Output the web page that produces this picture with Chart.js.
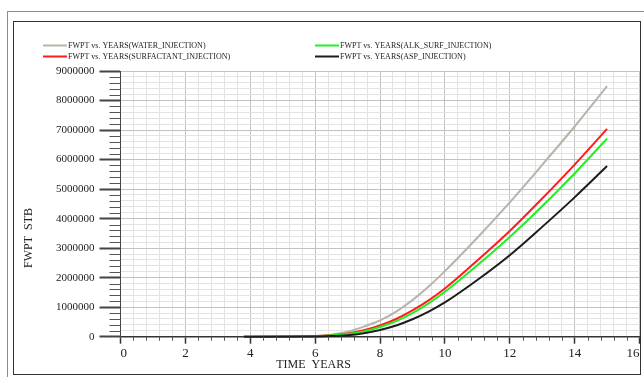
<!DOCTYPE html>
<html>
<head>
<meta charset="utf-8">
<script src="https://cdn.jsdelivr.net/npm/chart.js@4"></script>
<style>
  html, body { margin: 0; padding: 0; background: #fff; }
  #wrap { width: 644px; height: 377px; }
</style>
</head>
<body>
<div id="wrap"><canvas id="c" width="644" height="377"></canvas></div>
<script>
// ---- data ----
const years = [3.8, 6, 6.5, 7, 7.5, 8, 8.5, 9, 9.5, 10, 11, 12, 13, 14, 15];
const waterInjection = [0, 20000, 70000, 170000, 340000, 550000, 850000, 1240000, 1700000, 2220000, 3350000, 4550000, 5820000, 7120000, 8490000];
const surfactantInjection = [0, 20000, 50000, 110000, 220000, 380000, 600000, 890000, 1230000, 1630000, 2580000, 3580000, 4680000, 5830000, 7040000];
const alkSurfInjection = [0, 10000, 40000, 90000, 180000, 330000, 530000, 800000, 1130000, 1520000, 2420000, 3380000, 4420000, 5530000, 6710000];
const aspInjection = [0, 10000, 20000, 50000, 120000, 230000, 380000, 590000, 850000, 1160000, 1920000, 2760000, 3720000, 4720000, 5780000];
const seriesLabels = [
  'FWPT vs. YEARS(WATER_INJECTION)',
  'FWPT vs. YEARS(SURFACTANT_INJECTION)',
  'FWPT vs. YEARS(ALK_SURF_INJECTION)',
  'FWPT vs. YEARS(ASP_INJECTION)'
];
const xTitle = 'TIME  YEARS';
const yTitle = 'FWPT  STB';
const xMin = 0, xMax = 16, xMajorStep = 2, xMinorStep = 0.4;
const yMin = 0, yMax = 9000000, yMajorStep = 1000000, yMinorStep = 200000;

const colors = ['#b9b4ab', '#ff1c1c', '#22ee22', '#1c1c1c'];
const seriesValues = [waterInjection, surfactantInjection, alkSurfInjection, aspInjection];

const isMult = (v, s) => Math.abs(v / s - Math.round(v / s)) < 1e-6;
const SERIF = '"Liberation Serif", "DejaVu Serif", serif';

const decor = {
  id: 'decor',
  beforeDraw(chart) {
    const ctx = chart.ctx;
    ctx.save();
    ctx.fillStyle = '#ffffff';
    ctx.fillRect(0, 0, chart.width, chart.height);
    ctx.lineWidth = 1;
    ctx.strokeStyle = '#8c8c8c';
    ctx.strokeRect(7.5, 11.5, chart.width, chart.height);
    ctx.strokeStyle = '#333333';
    ctx.strokeRect(13.5, 21.5, 627, 353);
    ctx.restore();
  },
  afterDraw(chart) {
    const ctx = chart.ctx;
    const area = chart.chartArea;
    const xs = chart.scales.x, ys = chart.scales.y;
    ctx.save();
    // minor tick marks
    ctx.strokeStyle = '#555555';
    ctx.lineWidth = 1;
    ctx.beginPath();
    ys.ticks.forEach(t => {
      if (!isMult(t.value, yMajorStep)) {
        const py = Math.round(ys.getPixelForValue(t.value)) + 0.5;
        ctx.moveTo(area.left - 11, py);
        ctx.lineTo(area.left, py);
      }
    });
    xs.ticks.forEach(t => {
      if (!isMult(t.value, xMajorStep)) {
        const px = Math.round(xs.getPixelForValue(t.value)) + 0.5;
        ctx.moveTo(px, area.bottom);
        ctx.lineTo(px, area.bottom + 4);
      }
    });
    ctx.stroke();

    // axis titles
    ctx.fillStyle = '#222222';
    ctx.font = '12px ' + SERIF;
    ctx.textAlign = 'center';
    ctx.textBaseline = 'middle';
    ctx.fillText(xTitle, 313.5, 365);
    ctx.save();
    ctx.translate(28.5, 238);
    ctx.rotate(-Math.PI / 2);
    ctx.fillText(yTitle, 0, 0);
    ctx.restore();

    // legend (two columns)
    const colX = [43, 315];
    const rowY = [45.5, 56.5];
    ctx.font = '8px ' + SERIF;
    ctx.textAlign = 'left';
    chart.data.datasets.forEach((ds, i) => {
      const cx = colX[Math.floor(i / 2)];
      const cy = rowY[i % 2];
      ctx.strokeStyle = ds.borderColor;
      ctx.lineWidth = 2;
      ctx.beginPath();
      ctx.moveTo(cx, cy);
      ctx.lineTo(cx + 24, cy);
      ctx.stroke();
      ctx.fillStyle = '#222222';
      ctx.fillText(ds.label, cx + 25, cy);
    });
    ctx.restore();
  }
};

new Chart(document.getElementById('c'), {
  type: 'line',
  data: {
    datasets: seriesValues.map((vals, i) => ({
      label: seriesLabels[i],
      data: years.map((x, j) => ({ x: x, y: vals[j] })),
      borderColor: colors[i],
      backgroundColor: colors[i],
      borderWidth: 2,
      pointRadius: 0,
      tension: 0.35,
      cubicInterpolationMode: 'monotone',
      fill: false,
      clip: false,
      order: 3 - i
    }))
  },
  options: {
    responsive: false,
    animation: false,
    events: [],
    layout: { padding: { left: 0, top: 71, right: 4.5, bottom: 0 } },
    plugins: { legend: { display: false }, tooltip: { enabled: false }, title: { display: false } },
    scales: {
      x: {
        type: 'linear',
        position: 'bottom',
        min: xMin, max: xMax,
        afterFit(scale) { scale.height = 40.3; scale.paddingLeft = 0; scale.paddingRight = 0; },
        border: { display: true, color: '#333333', width: 1.5 },
        grid: {
          color: c => isMult(c.tick.value, xMajorStep) ? '#c2c2c2' : '#e3e3e3',
          lineWidth: 1,
          drawTicks: true,
          tickLength: 7,
          tickWidth: 1.5,
          tickColor: c => isMult(c.tick.value, xMajorStep) ? '#333333' : 'rgba(0,0,0,0)'
        },
        ticks: {
          stepSize: xMinorStep,
          autoSkip: false,
          maxRotation: 0,
          align: 'inner',
          padding: 2,
          color: '#222222',
          font: { family: SERIF, size: 13 },
          callback: v => isMult(v, xMajorStep) ? String(Math.round(v)) : ''
        }
      },
      y: {
        type: 'linear',
        position: 'left',
        min: yMin, max: yMax,
        afterFit(scale) { scale.width = 120.5; scale.paddingTop = 0; scale.paddingBottom = 0; },
        border: { display: true, color: '#444444', width: 1 },
        grid: {
          color: c => isMult(c.tick.value, yMajorStep) ? '#c2c2c2' : '#e3e3e3',
          lineWidth: 1,
          drawTicks: true,
          tickLength: 21,
          tickWidth: 2,
          tickColor: c => isMult(c.tick.value, yMajorStep) ? '#444444' : 'rgba(0,0,0,0)'
        },
        ticks: {
          stepSize: yMinorStep,
          autoSkip: false,
          padding: 5,
          color: '#222222',
          font: { family: SERIF, size: 11 },
          callback: v => isMult(v, yMajorStep) ? String(Math.round(v)) : ''
        }
      }
    }
  },
  plugins: [decor]
});
</script>
</body>
</html>
